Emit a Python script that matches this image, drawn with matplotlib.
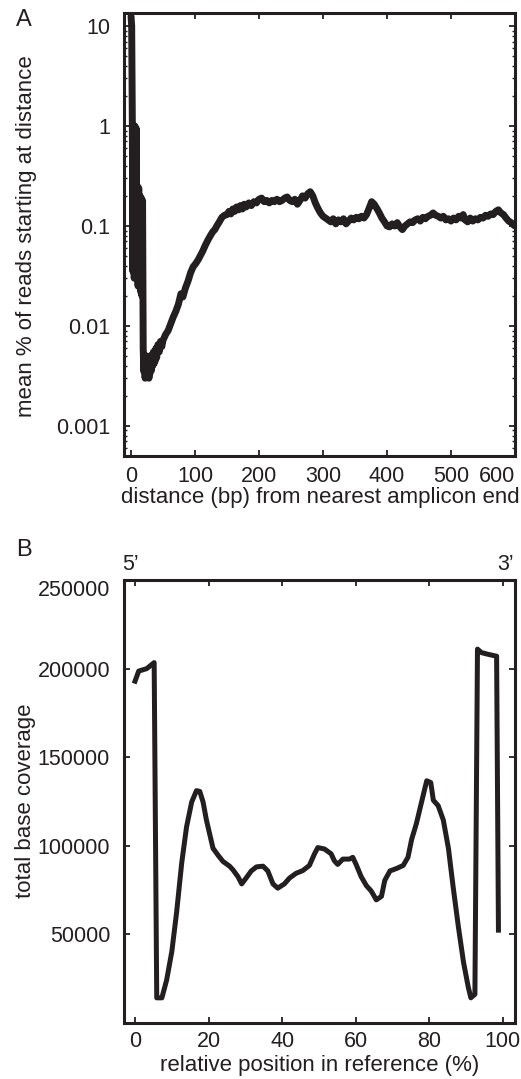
import numpy as np
import matplotlib
matplotlib.use("Agg")
import matplotlib.pyplot as plt
from matplotlib.ticker import FixedLocator, LogLocator, NullFormatter

plt.rcParams['font.family'] = ['Liberation Sans', 'DejaVu Sans']

INK = "#231f20"

# --- panel A: mean % of reads starting at distance (bp) ---
dist_a = [0, 1, 2, 3, 4, 5, 6, 7, 8, 9, 10, 11, 12, 13, 14, 15, 16, 17, 18, 19,
          20, 21, 22, 23, 24, 25, 26, 27, 28, 29, 30, 31, 32, 33, 34, 35, 36, 37, 38, 39,
          40, 42, 44, 46, 48, 50, 54, 58, 62, 66, 70, 74, 78, 81, 85, 89, 93, 97,
          101, 105, 108, 112, 116, 120, 124, 128, 131, 134, 138, 142, 146, 150, 153, 156, 159,
          162, 165, 168, 171, 174, 177, 180, 184, 188, 192, 196, 200, 204, 208, 212, 216,
          220, 224, 228, 232, 236, 240, 244, 248, 252, 256, 260, 264, 268, 272, 276, 280,
          284, 288, 292, 296, 300, 304, 308, 312, 316, 320, 324, 328, 332, 336, 340, 344,
          348, 352, 356, 360, 364, 368, 372, 376, 380, 384, 388, 392, 396, 400, 404, 408,
          412, 416, 420, 424, 428, 432, 436, 440, 444, 448, 452, 456, 460, 464, 468, 472,
          476, 480, 484, 488, 492, 496, 500, 504, 508, 512, 516, 519, 522, 526, 530, 534,
          538, 542, 546, 550, 554, 558, 562, 566, 570, 574, 578, 582, 586, 590, 594, 598, 600]
pct_a = [12.5, 10.0, 1.1, 0.035, 1.0, 0.03, 1.0, 0.035, 0.95, 0.03, 0.25, 0.025, 0.24, 0.03,
         0.2, 0.022, 0.19, 0.02, 0.18, 0.006,
         0.0035, 0.005, 0.003, 0.0045, 0.0032, 0.005, 0.0035, 0.0048, 0.003, 0.0045,
         0.0034, 0.005, 0.0036, 0.0052, 0.004, 0.0055, 0.0042, 0.005, 0.0045, 0.006,
         0.0048, 0.0065, 0.0055, 0.007, 0.0062, 0.0072, 0.0082, 0.009, 0.0105, 0.0123,
         0.014, 0.0165, 0.021, 0.0195, 0.024, 0.028, 0.034, 0.039,
         0.042, 0.046, 0.05, 0.056, 0.064, 0.072, 0.08, 0.088, 0.092, 0.1, 0.11, 0.122,
         0.128, 0.13, 0.14, 0.132, 0.148,
         0.14, 0.155, 0.145, 0.16, 0.148, 0.165, 0.155, 0.17, 0.16, 0.175, 0.17, 0.185,
         0.19, 0.175, 0.18, 0.17,
         0.18, 0.175, 0.185, 0.175, 0.18, 0.19, 0.195, 0.18, 0.175, 0.185, 0.165, 0.18,
         0.2, 0.19, 0.21, 0.22,
         0.2, 0.17, 0.15, 0.135, 0.125, 0.12, 0.115, 0.11, 0.118, 0.105, 0.115, 0.11,
         0.118, 0.105, 0.112, 0.12,
         0.115, 0.122, 0.118, 0.125, 0.12, 0.13, 0.15, 0.175, 0.165, 0.15, 0.135, 0.12,
         0.11, 0.1, 0.098, 0.105,
         0.1, 0.108, 0.098, 0.092, 0.1, 0.105, 0.11, 0.108, 0.115, 0.118, 0.112, 0.122,
         0.118, 0.125, 0.128, 0.135,
         0.128, 0.125, 0.12, 0.125, 0.115, 0.118, 0.112, 0.12, 0.115, 0.125, 0.12, 0.13,
         0.115, 0.11, 0.12, 0.112,
         0.118, 0.115, 0.122, 0.12, 0.128, 0.125, 0.132, 0.13, 0.14, 0.145, 0.135, 0.13,
         0.12, 0.112, 0.108, 0.102, 0.1]
xticks_a = [0, 100, 200, 300, 400, 500, 600]
yticks_a = [0.001, 0.01, 0.1, 1, 10]
ylabels_a = ["0.001", "0.01", "0.1", "1", "10"]

# --- panel B: total base coverage vs relative position (%) ---
pos_b = [0, 1, 3.2, 5.2, 5.9, 7.3, 8.6, 10, 11.3, 12.7, 14, 15.4, 16.7, 17.6, 18.5, 19.4,
         21.2, 22.6, 23.9, 25.7, 26.6, 28, 29, 30.2, 31.6, 33, 34.8, 36.1, 37.5, 38.8,
         40.6, 42, 43.8, 45.6, 47.4, 48.8, 49.7, 51.5, 53.3, 54.2, 55.1, 56.5, 58.3, 59.2,
         60.1, 61.5, 62.9, 64.2, 65.6, 67, 67.9, 69.3, 71.1, 72.9, 74.2, 75.2, 76.5, 77.9,
         79.3, 80.4, 81.1, 82.4, 83.8, 85.2, 86.5, 87.9, 89.3, 90.6, 91.3, 92.4, 93.1,
         94.2, 96.1, 98.3, 98.8]
cov_b = [192900, 198600, 200000, 203400, 14200, 14200, 24300, 40300, 62400, 90500,
         110600, 124700, 131100, 130700, 124700, 114600,
         98600, 94600, 91200, 88500, 86500, 82500, 78500, 81800, 85800, 88100, 88500,
         85800, 78500, 76100,
         78500, 81800, 84500, 86000, 88900, 95500, 99000, 98200, 95500, 91500, 89500,
         92500, 92500, 93500,
         89500, 82500, 77500, 74500, 69500, 71500, 80500, 85800, 87200, 88900, 93500,
         103600, 112600, 124700,
         136700, 135700, 125700, 122700, 114600, 98600, 76500, 54400, 34300, 20200,
         14200, 16200, 211000,
         209000, 208000, 207000, 52400]
xticks_b = [0, 20, 40, 60, 80, 100]
yticks_b = [50000, 100000, 150000, 200000, 250000]

W, H = 521, 1079
fig = plt.figure(figsize=(W / 100, H / 100), dpi=100)

def px_axes(l, t, r, b):
    return fig.add_axes([l / W, 1 - b / H, (r - l) / W, (b - t) / H])

def style_axes(ax):
    for s in ax.spines.values():
        s.set_linewidth(2.2)
        s.set_color(INK)
    ax.tick_params(which="major", direction="in", length=4.5, width=1.3, color=INK,
                   top=True, right=True, labelsize=15.5, labelcolor=INK)
    ax.tick_params(which="minor", direction="in", length=2.5, width=1.0, color=INK,
                   top=False, right=True, left=True)
    ax.tick_params(axis="y", pad=10)
    ax.tick_params(axis="x", pad=7)

# panel A
axA = px_axes(124, 13, 515, 456)
axA.plot(dist_a, pct_a, color=INK, lw=5, solid_joinstyle="round", solid_capstyle="round")
axA.set_yscale("log")
axA.set_xlim(-11, 600)
axA.set_ylim(0.0005, 13.5)
axA.set_xticks(xticks_a)
axA.yaxis.set_major_locator(FixedLocator(yticks_a))
axA.set_yticklabels(ylabels_a)
axA.yaxis.set_minor_locator(LogLocator(base=10, subs=np.arange(2, 10)))
axA.yaxis.set_minor_formatter(NullFormatter())
style_axes(axA)
axA.xaxis.get_major_ticks()[-1].label1.set_horizontalalignment("right")

# panel B
axB = px_axes(124, 580, 515, 1023)
axB.plot(pos_b, cov_b, color=INK, lw=3.6, solid_joinstyle="round")
axB.set_xlim(-3, 103.3)
axB.set_ylim(0, 250000)
axB.set_xticks(xticks_b)
axB.set_yticks(yticks_b)
axB.set_yticklabels([str(v) for v in yticks_b])
style_axes(axB)
axB.tick_params(axis="x", pad=6)
axB.yaxis.get_major_ticks()[-1].label1.set_verticalalignment("top")

def ftext(x, y, s, **kw):
    fig.text(x / W, 1 - y / H, s, color=INK, ha="center", va="center", **kw)

ftext(27, 236, "mean % of reads starting at distance", fontsize=16, rotation=90)
ftext(320, 498, "distance (bp) from nearest amplicon end", fontsize=16)
ftext(26, 801, "total base coverage", fontsize=16, rotation=90)
ftext(320, 1065, "relative position in reference (%)", fontsize=16)
ftext(24, 20, "A", fontsize=17)
ftext(24, 550, "B", fontsize=17)
ftext(130, 565, "5\u2019", fontsize=15.5)
ftext(506, 565, "3\u2019", fontsize=15.5)

fig.savefig("out.png", dpi=100, facecolor="white")
